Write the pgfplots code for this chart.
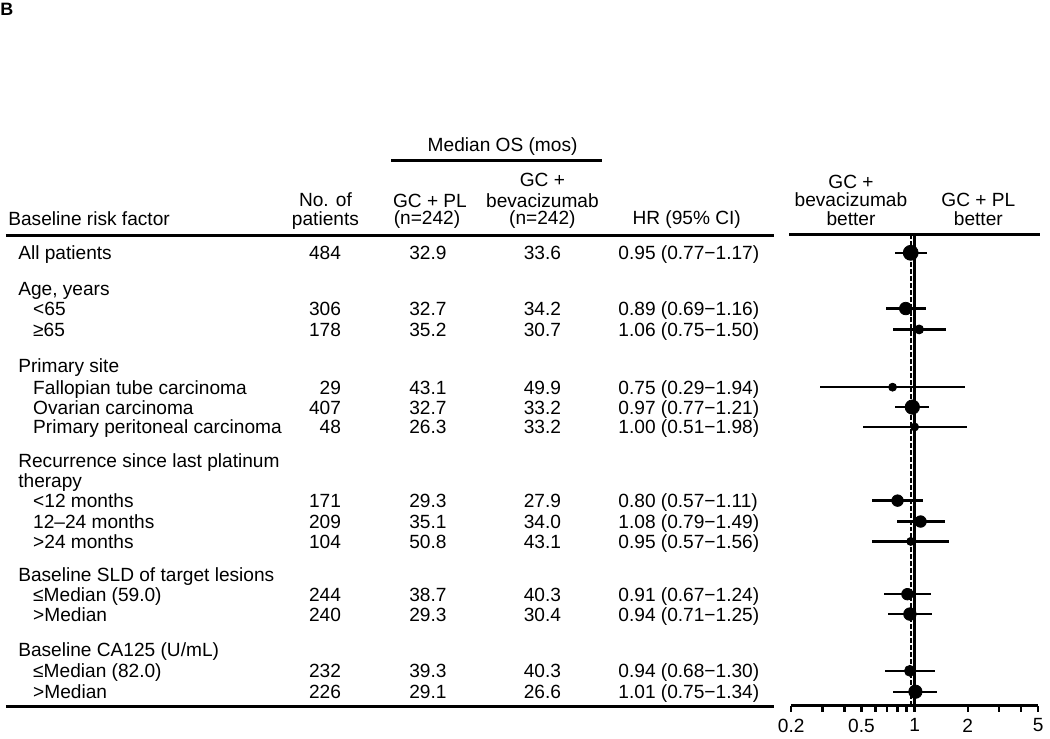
\documentclass[border=0pt]{standalone}
\usepackage{fontspec}
\setmainfont{Liberation Sans}
\usepackage{pgfplots}
\usepackage{pgfplotstable}
\pgfplotsset{compat=1.18}

\newcommand\fs{\fontsize{9.6pt}{11pt}\selectfont}

% y = row position (px from top), hr + 95% CI, r = marker radius (pt)
\pgfplotstableread{
y   hr   lo   hi   r
254 0.95 0.77 1.17 3.75
310 0.89 0.69 1.16 3.15
331 1.06 0.75 1.50 2.25
389 0.75 0.29 1.94 1.0
409 0.97 0.77 1.21 3.6
429 1.00 0.51 1.98 1.5
503 0.80 0.57 1.11 2.9
524 1.08 0.79 1.49 2.9
544 0.95 0.57 1.56 1.85
597 0.91 0.67 1.24 2.9
617 0.94 0.71 1.25 3.15
674 0.94 0.68 1.30 2.75
695 1.01 0.75 1.34 3.35
}\hrdata

% one table row: y, n, GC+PL, GC+bev, HR text
\newcommand\datarow[5]{%
  \node[t, anchor=base east] at (343,#1+7) {#2};
  \node[t, anchor=base] at (430,#1+7) {#3};
  \node[t, anchor=base] at (545,#1+7) {#4};
  \node[t, anchor=base west] at (621,#1+7) {#5};}
\newcommand\lab[3]{\node[t, anchor=base west] at (#1,#2+7) {#3};}
\newcommand\ctr[3]{\node[t, anchor=base] at (#1,#2+7) {#3};}

\begin{document}
\begin{tikzpicture}
\begin{scope}[x=0.5pt, y=-0.5pt, t/.style={inner sep=0pt, font=\fs}]
\path[use as bounding box] (0,0) rectangle (1050,738);
\node[inner sep=0pt, anchor=base west, font=\fontsize{9pt}{10pt}\selectfont\bfseries] at (0,16) {B};

% header
\ctr{505}{145}{Median OS (mos)}
\draw[line width=1.3pt] (393,161) -- (605,161);
\lab{8}{220}{Baseline risk factor}
\ctr{327}{200}{No. of}
\ctr{327}{220}{patients}
\ctr{432}{201}{GC + PL}
\ctr{429}{219}{(n=242)}
\ctr{545}{180}{GC +}
\ctr{545}{201}{bevacizumab}
\ctr{545}{219}{(n=242)}
\ctr{690}{219}{HR (95\% CI)}
\ctr{855}{182}{GC +}
\ctr{855}{200}{bevacizumab}
\ctr{855}{220}{better}
\ctr{983}{200}{GC + PL}
\ctr{983}{220}{better}
\draw[line width=1.6pt] (6,237) -- (778,237);
\draw[line width=1.6pt] (793,236) -- (1045,236);
\draw[line width=1.6pt] (6,710) -- (778,710);

% labels
\lab{18}{254}{All patients}
\lab{18}{290}{Age, years}
\lab{33}{310}{<65}
\lab{33}{331}{≥65}
\lab{18}{367}{Primary site}
\lab{33}{389}{Fallopian tube carcinoma}
\lab{33}{409}{Ovarian carcinoma}
\lab{33}{429}{Primary peritoneal carcinoma}
\lab{18}{463}{Recurrence since last platinum}
\lab{18}{483}{therapy}
\lab{33}{503}{<12 months}
\lab{33}{524}{12–24 months}
\lab{33}{544}{>24 months}
\lab{18}{577}{Baseline SLD of target lesions}
\lab{33}{597}{≤Median (59.0)}
\lab{33}{617}{>Median}
\lab{18}{653}{Baseline CA125 (U/mL)}
\lab{33}{674}{≤Median (82.0)}
\lab{33}{695}{>Median}

\datarow{254}{484}{32.9}{33.6}{0.95 (0.77−1.17)}
\datarow{310}{306}{32.7}{34.2}{0.89 (0.69−1.16)}
\datarow{331}{178}{35.2}{30.7}{1.06 (0.75−1.50)}
\datarow{389}{29}{43.1}{49.9}{0.75 (0.29−1.94)}
\datarow{409}{407}{32.7}{33.2}{0.97 (0.77−1.21)}
\datarow{429}{48}{26.3}{33.2}{1.00 (0.51−1.98)}
\datarow{503}{171}{29.3}{27.9}{0.80 (0.57−1.11)}
\datarow{524}{209}{35.1}{34.0}{1.08 (0.79−1.49)}
\datarow{544}{104}{50.8}{43.1}{0.95 (0.57−1.56)}
\datarow{597}{244}{38.7}{40.3}{0.91 (0.67−1.24)}
\datarow{617}{240}{29.3}{30.4}{0.94 (0.71−1.25)}
\datarow{674}{232}{39.3}{40.3}{0.94 (0.68−1.30)}
\datarow{695}{226}{29.1}{26.6}{1.01 (0.75−1.34)}
\end{scope}

\begin{axis}[
  at={(397.5pt,-354.5pt)}, anchor=south west,
  scale only axis, width=124pt, height=236.5pt,
  xmode=log, xmin=0.2, xmax=5, ymin=-709, ymax=-236,
  axis x line=bottom, axis y line=none,
  axis line style={-, line width=1.5pt},
  xtick={0.2,0.3,0.4,0.5,0.6,0.7,0.8,0.9,1,2,3,4,5},
  xticklabels={0.2,,,0.5,,,,,1,2,,,5},
  tick align=outside, major tick length=3pt,
  major tick style={line width=1.2pt, black},
  minor tick length=0pt,
  ticklabel style={font=\fs},
  clip=false,
]
\addplot[black, line width=1.3pt] coordinates {(1,-709) (1,-236)};
\addplot[black, line width=1.2pt, dash pattern=on 2.5pt off 1pt] coordinates {(0.95,-709) (0.95,-236)};
\addplot[only marks, mark=none,
  error bars/.cd, x dir=both, x explicit, error mark=none,
  error bar style={line width=1.2pt, black}]
  table[x=hr, y expr=-\thisrow{y},
        x error plus expr=\thisrow{hi}-\thisrow{hr},
        x error minus expr=\thisrow{hr}-\thisrow{lo}] {\hrdata};
\addplot[scatter, only marks, mark=*,
  scatter/use mapped color={draw=black, fill=black},
  visualization depends on={\thisrow{r}\as\rr},
  scatter/@pre marker code/.append style={/tikz/mark size=\rr}]
  table[x=hr, y expr=-\thisrow{y}] {\hrdata};
\end{axis}
\end{tikzpicture}
\end{document}
